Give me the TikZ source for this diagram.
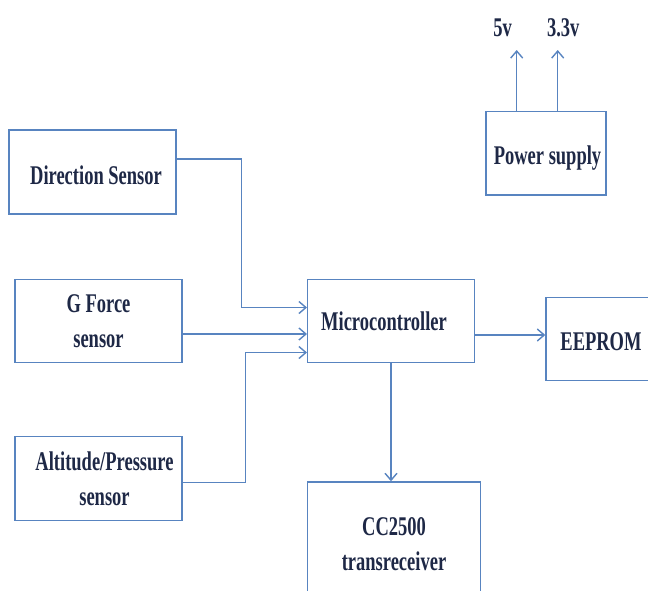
\documentclass[tikz,border=0pt]{standalone}
\usepackage{fontspec}
\setmainfont[FakeStretch=0.685]{Liberation Serif}
\usetikzlibrary{arrows.meta}
\definecolor{linecol}{RGB}{88,132,192}
\definecolor{txtcol}{RGB}{30,40,70}
\newcommand{\lowertxt}[2]{\raisebox{-#1}[\height][\depth]{#2}}
\tikzset{
  blk/.style={draw=linecol, line width=1.4pt, fill=white, inner sep=0pt,
    align=center, text=txtcol,
    font={\fontsize{27}{35}\selectfont\bfseries}},
  lbl/.style={inner sep=0pt, text=txtcol, font={\fontsize{27}{35}\selectfont\bfseries}},
  wire/.style={draw=linecol, line width=1.4pt},
  arr/.style={wire, -{Straight Barb[length=7pt,width=12pt,line width=1.4pt]}}
}
\begin{document}
\begin{tikzpicture}[x=1pt,y=-1pt]
\useasboundingbox (0,0) rectangle (648,590);
\clip (0,0) rectangle (648,590);

% blocks
\node[blk, minimum width=167pt, minimum height=84pt] (dir) at (92.5,172) {\lowertxt{3pt}{\hspace*{7pt}Direction Sensor}};
\node[blk, minimum width=167pt, minimum height=83pt] (gf) at (98.5,321) {G Force\\sensor};
\node[blk, minimum width=167pt, minimum height=84pt] (alt) at (98.5,478.7) {\hspace*{12pt}Altitude/Pressure\\\hspace*{12pt}sensor};
\node[blk, minimum width=166.6pt, minimum height=83.4pt] (mcu) at (391,321) {Microcontroller\hspace*{14pt}};
\node[blk, minimum width=110pt, minimum height=83pt] (eep) at (601,339) {\lowertxt{3pt}{EEPROM}};
\node[blk, minimum width=172.6pt, minimum height=124pt] (cc) at (394,544) {CC2500\\transreceiver};
\node[blk, minimum width=120pt, minimum height=83.3pt] (pwr) at (546,153.4) {\lowertxt{5pt}{\hspace*{3pt}Power supply}};

% supply rail labels
\node[lbl] (v5) at (502.7,28) {5v};
\node[lbl] (v33) at (563.3,28) {3.3v};

% sensor inputs
\draw[arr] ([yshift=13pt]dir.east) -- ++(65pt,0) |- ([yshift=13.5pt]mcu.west);
\draw[arr] ([yshift=-13pt]gf.east) -- ([yshift=-13pt]mcu.west);
\draw[arr] ([yshift=-4pt]alt.east) -- ++(63pt,0) |- ([yshift=-31.5pt]mcu.west);

% outputs
\coordinate (m2e) at ([yshift=-14pt]mcu.east);
\draw[arr] (m2e) -- (m2e -| eep.west);
\draw[arr] (mcu.south) -- (mcu.south |- cc.north);

% supply rails
\coordinate (p5) at ([xshift=-29.3pt]pwr.north);
\coordinate (p33) at ([xshift=11.7pt]pwr.north);
\coordinate (t5) at (516.7,50);
\coordinate (t33) at (557.7,50);
\draw[arr] (p5) -- (t5);
\draw[arr] (p33) -- (t33);
\end{tikzpicture}
\end{document}
